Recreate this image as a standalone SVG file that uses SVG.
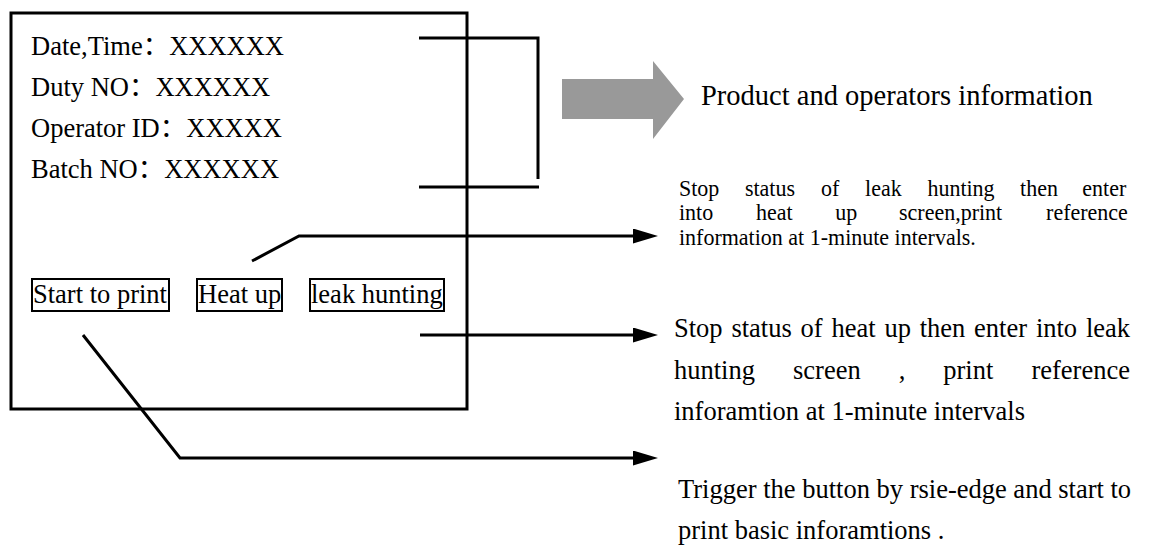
<svg xmlns="http://www.w3.org/2000/svg" width="1149" height="545" viewBox="0 0 1149 545">
<style>
.t{font-family:'Liberation Serif','Noto Sans CJK SC',serif;fill:#000;}
.f26{font-size:26.5px;}
.f23{font-size:23px;}
.f28{font-size:28.5px;}
.box{fill:none;stroke:#000;stroke-width:3;}
.btn{fill:none;stroke:#000;stroke-width:2;}
.ln{fill:none;stroke:#000;stroke-width:3;stroke-linejoin:miter;}
</style>
<defs>
<marker id="ah" markerUnits="userSpaceOnUse" markerWidth="26" markerHeight="16" refX="0" refY="7.5" orient="auto">
<path d="M0,0 L25,7.5 L0,15 Z" fill="#000"/>
</marker>
</defs>
<rect width="1149" height="545" fill="#fff"/>
<g id="screen">
<rect class="box" x="11" y="13" width="456" height="396"/>
<text class="t f26" x="31" y="55">Date,Time：XXXXXX</text>
<text class="t f26" x="31" y="96">Duty NO：XXXXXX</text>
<text class="t f26" x="31" y="137">Operator ID：XXXXX</text>
<text class="t f26" x="31" y="178">Batch NO：XXXXXX</text>
</g>
<g id="btn-start">
<rect class="btn" x="32" y="279" width="137" height="32"/>
<text class="t f26" x="33" y="303">Start to print</text>
</g>
<g id="btn-heat">
<rect class="btn" x="197" y="279" width="85" height="32"/>
<text class="t f26" x="198" y="303">Heat up</text>
</g>
<g id="btn-leak">
<rect class="btn" x="310" y="279" width="134" height="32"/>
<text class="t f26" x="311" y="303">leak hunting</text>
</g>
<g id="gray-arrow">
<polygon points="562,79 653,79 653,61 684,99 653,139 653,119 562,119" fill="#999999"/>
</g>
<g id="desc-product">
<text class="t f28" x="701" y="105">Product and operators information</text>
</g>
<g id="desc-heat" transform="translate(679 0) scale(0.9565 1)">
<text class="t f23" y="196"><tspan x="0">Stop</tspan><tspan x="68.9">status</tspan><tspan x="148.4">of</tspan><tspan x="194.5">leak</tspan><tspan x="259.7">hunting</tspan><tspan x="356.6">then</tspan><tspan x="421.7">enter</tspan></text>
<text class="t f23" y="220.5"><tspan x="0">into</tspan><tspan x="80.5">heat</tspan><tspan x="163.5">up</tspan><tspan x="230">screen,print</tspan><tspan x="383.8">reference</tspan></text>
<text class="t f23" x="0" y="245">information at 1-minute intervals.</text>
</g>
<g id="desc-leak">
<text class="t f26" y="337"><tspan x="674">Stop</tspan><tspan x="731.4">status</tspan><tspan x="800.6">of</tspan><tspan x="831.5">heat</tspan><tspan x="884.4">up</tspan><tspan x="919.7">then</tspan><tspan x="974.1">enter</tspan><tspan x="1035.9">into</tspan><tspan x="1085.9">leak</tspan></text>
<text class="t f26" y="379"><tspan x="674">hunting</tspan><tspan x="793">screen</tspan><tspan x="898.7">,</tspan><tspan x="943.3">print</tspan><tspan x="1031.4">reference</tspan></text>
<text class="t f26" x="674" y="420">inforamtion at 1-minute intervals</text>
</g>
<g id="desc-start">
<text class="t f26" x="678" y="498">Trigger the button by rsie-edge and start to</text>
<text class="t f26" x="678" y="539">print basic inforamtions .</text>
</g>
<g id="connectors">
<polyline class="ln" points="419,38 538,38 538,179"/>
<line class="ln" x1="419" y1="187" x2="539" y2="187"/>
<polyline class="ln" points="252,261 299,236 633,236" marker-end="url(#ah)"/>
<line class="ln" x1="420" y1="335" x2="633" y2="335" marker-end="url(#ah)"/>
<polyline class="ln" points="83,335 180,458 633,458" marker-end="url(#ah)"/>
</g>
</svg>
